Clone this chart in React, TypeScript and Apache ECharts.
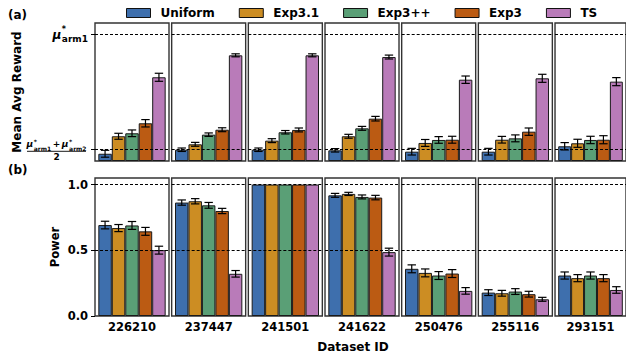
import { useEffect, useRef } from 'react';
import * as echarts from 'echarts';

const methods = ['Uniform', 'Exp3.1', 'Exp3++', 'Exp3', 'TS'];
const methodColors = ['#3E6FAD', '#CC8D23', '#5A9F76', '#BB5B13', '#B97BB9'];
const datasetIds = ['226210', '237447', '241501', '241622', '250476', '255116', '293151'];

// (a) mean average reward, in units where the panel floor is 0,
// (mu*arm1 + mu*arm2)/2 is 0.1 and mu*arm1 is 1.1
const rewardMid = 0.1;
const rewardArm1 = 1.1;
const rewardMean = [
  [0.063, 0.215, 0.241, 0.328, 0.728],
  [0.098, 0.145, 0.229, 0.272, 0.919],
  [0.098, 0.177, 0.250, 0.270, 0.919],
  [0.093, 0.215, 0.284, 0.368, 0.904],
  [0.081, 0.157, 0.183, 0.185, 0.707],
  [0.081, 0.185, 0.197, 0.255, 0.719],
  [0.128, 0.154, 0.183, 0.185, 0.690],
];
const rewardErr = [
  [0.030, 0.026, 0.029, 0.032, 0.035],
  [0.015, 0.017, 0.015, 0.017, 0.013],
  [0.015, 0.017, 0.015, 0.017, 0.013],
  [0.015, 0.017, 0.017, 0.020, 0.017],
  [0.029, 0.030, 0.029, 0.030, 0.032],
  [0.029, 0.029, 0.030, 0.032, 0.035],
  [0.032, 0.035, 0.032, 0.035, 0.035],
];

// (b) power
const powerMean = [
  [0.692, 0.669, 0.689, 0.644, 0.501],
  [0.863, 0.873, 0.842, 0.799, 0.321],
  [1.0, 1.0, 1.0, 1.0, 1.0],
  [0.918, 0.929, 0.906, 0.901, 0.486],
  [0.359, 0.328, 0.308, 0.323, 0.191],
  [0.178, 0.173, 0.186, 0.166, 0.127],
  [0.308, 0.288, 0.308, 0.288, 0.198],
];
const powerErr = [
  [0.029, 0.027, 0.030, 0.030, 0.030],
  [0.020, 0.020, 0.022, 0.020, 0.025],
  [0, 0, 0, 0, 0],
  [0.015, 0.012, 0.015, 0.017, 0.030],
  [0.030, 0.030, 0.030, 0.030, 0.025],
  [0.022, 0.022, 0.022, 0.022, 0.015],
  [0.027, 0.027, 0.027, 0.027, 0.025],
];
const powerTicks = [0, 0.5, 1.0];
const powerLevels = [0.5, 1.0];

const FONT = 'DejaVu Sans';
const CAT_GAP = 0.09;

const rows = [
  { top: 23, min: 0, max: 1.2, mean: rewardMean, err: rewardErr, levels: [rewardMid, rewardArm1] },
  { top: 178, min: 0, max: 1.05, mean: powerMean, err: powerErr, levels: powerLevels },
];
const PANEL_W = 74;
const PANEL_H = 138;
const panelLeft = (p: number) => 95 + p * 76.67;

let measureCtx: CanvasRenderingContext2D | null = null;
function tw(text: string, size: number, italic = false) {
  if (!measureCtx) measureCtx = document.createElement('canvas').getContext('2d');
  measureCtx!.font = `${italic ? 'italic ' : ''}bold ${size}px "${FONT}"`;
  return measureCtx!.measureText(text).width;
}

function txt(id: string, x: number, y: number, text: string, size: number, opts: any = {}) {
  return {
    type: 'text',
    id,
    x,
    y,
    silent: true,
    style: {
      text,
      fontFamily: FONT,
      fontWeight: 'bold',
      fontStyle: opts.italic ? 'italic' : 'normal',
      fontSize: size,
      fill: '#000',
      align: opts.align || 'left',
      textAlign: opts.align || 'left',
      verticalAlign: 'middle',
      textVerticalAlign: 'middle',
    },
  };
}

// mu with superscript * and subscript label stacked
function muTerm(
  id: string, x: number, yMu: number, ySup: number, ySub: number,
  sub: string, muSize: number, supSize: number, subSize: number,
) {
  const wMu = tw('μ', muSize, true);
  const wSub = tw(sub, subSize);
  const wSup = tw('*', supSize);
  const gap = 0.6;
  const els = [
    txt(id + 'mu', x, yMu, 'μ', muSize, { italic: true }),
    txt(id + 'sup', x + wMu + gap, ySup, '*', supSize),
    txt(id + 'sub', x + wMu + gap, ySub, sub, subSize),
  ];
  return { els, width: wMu + gap + Math.max(wSub, wSup) };
}

function buildOption() {
  const grid: any[] = [];
  const xAxis: any[] = [];
  const yAxis: any[] = [];
  const series: any[] = [];
  rows.forEach((row, r) => {
    datasetIds.forEach((id, p) => {
      const g = r * 7 + p;
      grid.push({
        left: panelLeft(p),
        top: row.top,
        width: PANEL_W,
        height: PANEL_H,
        show: true,
        borderColor: '#333',
        borderWidth: 1.4,
        backgroundColor: 'transparent',
      });
      xAxis.push({
        type: 'category',
        gridIndex: g,
        data: [id],
        axisLine: { show: false },
        axisTick: { show: false },
        axisLabel: {
          show: r === 1,
          fontFamily: FONT,
          fontWeight: 'bold',
          fontSize: 11.5,
          color: '#000',
          margin: 5,
        },
      });
      const first = p === 0;
      yAxis.push({
        type: 'value',
        gridIndex: g,
        min: row.min,
        max: row.max,
        axisLine: { show: false },
        splitLine: { show: false },
        axisTick: {
          show: first,
          length: 4,
          lineStyle: { color: '#000', width: 1 },
          customValues: r === 0 ? [rewardMid, rewardArm1] : powerTicks,
        },
        axisLabel: {
          show: first && r === 1,
          customValues: powerTicks,
          formatter: (v: number) => v.toFixed(1),
          fontFamily: FONT,
          fontWeight: 'bold',
          fontSize: 11.5,
          color: '#000',
          margin: 7,
        },
        name: first ? (r === 0 ? 'Mean Avg Reward' : 'Power') : '',
        nameLocation: 'middle',
        nameRotate: 90,
        nameGap: r === 0 ? 72 : 34,
        nameTextStyle: { fontFamily: FONT, fontWeight: 'bold', fontSize: r === 0 ? 12 : 11.5, color: '#000' },
      });
      methods.forEach((m, k) => {
        const s: any = {
          type: 'bar',
          name: m,
          xAxisIndex: g,
          yAxisIndex: g,
          data: [row.mean[p][k]],
          barGap: '0%',
          barCategoryGap: CAT_GAP * 100 + '%',
          silent: true,
          itemStyle: { color: methodColors[k], borderColor: '#1a1a1a', borderWidth: 1 },
        };
        if (k === 0) {
          s.markLine = {
            silent: true,
            symbol: ['none', 'none'],
            label: { show: false },
            lineStyle: { color: '#000', type: [3, 2], width: 1 },
            data: row.levels.map((v) => ({ yAxis: v })),
          };
        }
        series.push(s);
      });
      series.push({
        type: 'custom',
        xAxisIndex: g,
        yAxisIndex: g,
        silent: true,
        z: 5,
        encode: { x: 0, y: 1 },
        data: methods.map((_, k) => [0, row.mean[p][k], row.err[p][k], k]),
        renderItem: (_params: any, api: any) => {
          const mean = api.value(1);
          const err = api.value(2);
          const k = api.value(3);
          if (!err) return null;
          const band = api.size([0, 0])[0];
          const total = band * (1 - CAT_GAP);
          const bw = total / methods.length;
          const c = api.coord([0, mean]);
          const cx = c[0] - total / 2 + bw * (k + 0.5);
          const yT = api.coord([0, mean + err])[1];
          const yB = api.coord([0, mean - err])[1];
          const st = { stroke: '#000', lineWidth: 1.2 };
          const cap = 4.2;
          return {
            type: 'group',
            children: [
              { type: 'line', shape: { x1: cx, y1: yT, x2: cx, y2: yB }, style: st },
              { type: 'line', shape: { x1: cx - cap, y1: yT, x2: cx + cap, y2: yT }, style: st },
              { type: 'line', shape: { x1: cx - cap, y1: yB, x2: cx + cap, y2: yB }, style: st },
            ],
          };
        },
      });
    });
  });

  return {
    animation: false,
    backgroundColor: '#fff',
    legend: {
      data: methods,
      top: 2,
      left: 121,
      itemWidth: 24,
      itemHeight: 9,
      itemGap: 24,
      icon: 'rect',
      selectedMode: false,
      itemStyle: { borderColor: '#111', borderWidth: 1 },
      textStyle: { fontFamily: FONT, fontWeight: 'bold', fontSize: 12, color: '#000', padding: [0, 0, 0, 5] },
    },
    grid,
    xAxis,
    yAxis,
    series,
  };
}

function buildGraphic(chart: any) {
  const yA = chart.convertToPixel({ yAxisIndex: 0 }, rewardArm1);
  const yM = chart.convertToPixel({ yAxisIndex: 0 }, rewardMid);
  const els: any[] = [];
  els.push(txt('lblA', 8, 15, '(a)', 12));
  els.push(txt('lblB', 8, 170, '(b)', 12));
  els.push(txt('xname', 353, 346.5, 'Dataset ID', 12, { align: 'center' }));

  // mu*_arm1 label
  const t1w = muTerm('m0', 0, 0, 0, 0, 'arm1', 12, 8, 9).width;
  const t1 = muTerm('m1', 88 - t1w, yA + 0.3, yA - 4.7, yA + 4.3, 'arm1', 12, 8, 9);
  els.push(...t1.els);

  // (mu*_arm1 + mu*_arm2) / 2 label
  const muS = 9;
  const subS = 6;
  const yMu = yM - 5.5;
  const ySup = yM - 7.8;
  const ySub = yM - 1.3;
  const wTerm = muTerm('z', 0, 0, 0, 0, 'arm1', muS, subS, subS).width;
  const wPlus = tw('+', muS);
  const sp = 1.6;
  const numW = wTerm * 2 + wPlus + sp * 2;
  const fracL = 27;
  const fracR = 86;
  const cx = (fracL + fracR) / 2;
  let x = cx - numW / 2;
  const a1 = muTerm('n1', x, yMu, ySup, ySub, 'arm1', muS, subS, subS);
  els.push(...a1.els);
  x += a1.width + sp;
  els.push(txt('plus', x, yMu, '+', muS));
  x += wPlus + sp;
  const a2 = muTerm('n2', x, yMu, ySup, ySub, 'arm2', muS, subS, subS);
  els.push(...a2.els);
  els.push({
    type: 'line',
    id: 'fracline',
    silent: true,
    shape: { x1: fracL, y1: yM + 1.8, x2: fracR, y2: yM + 1.8 },
    style: { stroke: '#000', lineWidth: 0.9 },
  });
  els.push(txt('den', cx, yM + 7.6, '2', muS, { align: 'center' }));
  return els;
}

export default function App() {
  const ref = useRef<HTMLDivElement>(null);
  useEffect(() => {
    if (!ref.current) return;
    const chart = echarts.init(ref.current, undefined, { renderer: 'svg' });
    chart.setOption(buildOption() as any);
    chart.setOption({ graphic: buildGraphic(chart) } as any);
    return () => chart.dispose();
  }, []);
  return (
    <div
      ref={ref}
      style={{ position: 'fixed', left: 0, top: 0, width: 626, height: 358, background: '#fff' }}
    />
  );
}
